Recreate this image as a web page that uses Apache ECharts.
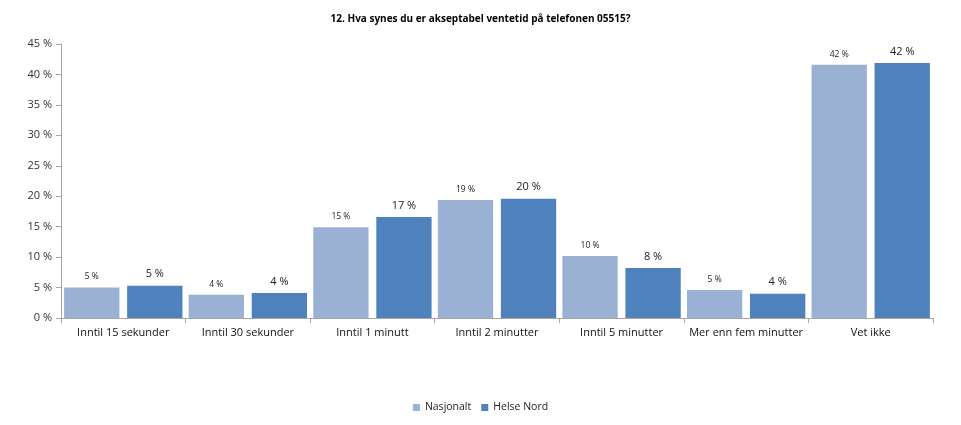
<!DOCTYPE html>
<html><head><meta charset="utf-8">
<script src="https://cdn.jsdelivr.net/npm/echarts@6/dist/echarts.min.js"></script>
<style>html,body{margin:0;padding:0;background:#fff}#c{width:961px;height:425px}</style>
</head><body><div id="c"></div>
<script>
const categories = ["Inntil 15 sekunder","Inntil 30 sekunder","Inntil 1 minutt","Inntil 2 minutter","Inntil 5 minutter","Mer enn fem minutter","Vet ikke"];
const nasjonalt = [5.0, 3.8, 14.9, 19.4, 10.2, 4.6, 41.6];
const helseNord = [5.3, 4.1, 16.6, 19.6, 8.2, 4.0, 41.9];
const yTicks = [0,5,10,15,20,25,30,35,40,45];
const FONT = "'Open Sans', sans-serif";
const chart = echarts.init(document.getElementById('c'), null, {renderer:'canvas'});
chart.setOption({
  animation:false,
  backgroundColor:'#fff',
  title:{text:'12. Hva synes du er akseptabel ventetid på telefonen 05515?',left:'center',top:9,
    textStyle:{fontFamily:FONT,fontSize:10,fontWeight:'bold',color:'#000'}},
  legend:{bottom:7,left:'center',itemWidth:7,itemHeight:7,itemGap:10,icon:'rect',
    textStyle:{fontFamily:FONT,fontSize:10.5,color:'#222'},data:['Nasjonalt','Helse Nord']},
  grid:{left:61,right:28,top:44,bottom:107,containLabel:false},
  xAxis:{type:'category',data:categories,
    axisLine:{lineStyle:{color:'#a6a6a6'}},
    axisTick:{show:true,length:5,lineStyle:{color:'#a6a6a6'}},
    axisLabel:{fontFamily:FONT,fontSize:11,color:'#111',margin:9,interval:0}},
  yAxis:{type:'value',min:yTicks[0],max:yTicks[yTicks.length-1],interval:5,
    splitLine:{show:false},
    axisLine:{show:true,lineStyle:{color:'#a6a6a6'}},
    axisTick:{show:true,length:5,lineStyle:{color:'#a6a6a6'}},
    axisLabel:{formatter:'{value} %',fontFamily:FONT,fontSize:11,color:'#333',margin:9}},
  series:[
    {name:'Nasjonalt',type:'bar',data:nasjonalt,barGap:'14%',barCategoryGap:'5%',
      itemStyle:{color:'#9BB1D3'},
      label:{show:true,position:'top',distance:6,formatter:p=>Math.round(p.value)+' %',
        fontFamily:FONT,fontSize:8.5,color:'#222'}},
    {name:'Helse Nord',type:'bar',data:helseNord,
      itemStyle:{color:'#4F81BD'},
      label:{show:true,position:'top',distance:6,formatter:p=>Math.round(p.value)+' %',
        fontFamily:FONT,fontSize:11,color:'#222'}}
  ]
});
</script></body></html>
